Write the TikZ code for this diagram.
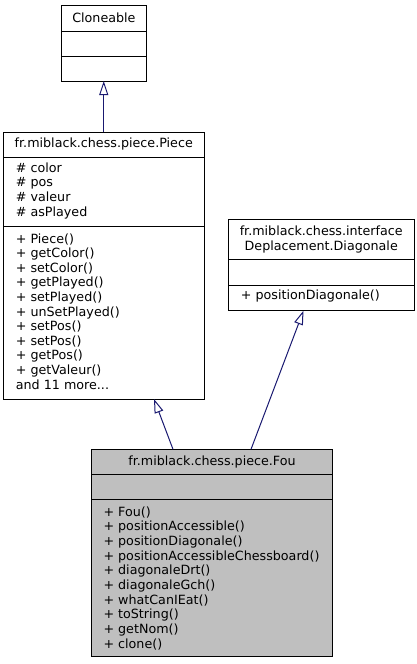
\documentclass[tikz,border=0pt]{standalone}
\usepackage{fontspec}
\setmainfont{DejaVu Sans}
\usetikzlibrary{arrows.meta}
\definecolor{navy}{HTML}{191970}
\definecolor{hilite}{HTML}{BFBFBF}
\newcommand{\umlfont}{\fontsize{12.7}{14.6}\selectfont}
\tikzset{
  box/.style={draw=black, line width=0.9pt, anchor=north west, inner sep=0pt, outer sep=0pt},
  divider/.style={draw=black, line width=0.9pt},
  lbl/.style={anchor=base west, inner sep=0pt, font=\umlfont},
  ttl/.style={anchor=base, inner sep=0pt, font=\umlfont},
  edge/.style={draw=navy, line width=1pt, -{Triangle[open,length=14pt,width=9pt]}},
}
\begin{document}
\begin{tikzpicture}[x=1pt,y=-1pt]
\useasboundingbox (0,0) rectangle (417,664);
% Cloneable
\node[box, minimum width=85.2pt, minimum height=75.3pt] (cloneable) at (61.3,5.7) {};
\draw[divider] (61.3,31.7) -- (146.5,31.7);
\draw[divider] (61.3,56.7) -- (146.5,56.7);
\node[ttl] (cloneabletitle) at (103.9,22) {Cloneable};
% Piece
\node[box, minimum width=200.5pt, minimum height=266.7pt] (piece) at (3.5,132.3) {};
\draw[divider] (3.5,157.3) -- (204,157.3);
\draw[divider] (3.5,226.7) -- (204,226.7);
\node[ttl] (piecetitle) at (103.75,147.7) {fr.miblack.chess.piece.Piece};
\foreach \t [count=\i from 0] in {\# color,\# pos,\# valeur,\# asPlayed}
  \node[lbl] (pa\i) at (15.7,172+14.7*\i) {\t};
\foreach \t [count=\i from 0] in {+ Piece(),+ getColor(),+ setColor(),+ getPlayed(),+ setPlayed(),+ unSetPlayed(),+ setPos(),+ setPos(),+ getPos(),+ getValeur()}
  \node[lbl] (pm\i) at (15.7,243+14.6*\i) {\t};
\node[lbl] (pmore) at (15.7,389) {and 11 more...};
% Diagonale
\node[box, minimum width=185.5pt, minimum height=91.2pt] (diag) at (228.5,219.5) {};
\draw[divider] (228.5,259.3) -- (414,259.3);
\draw[divider] (228.5,285.3) -- (414,285.3);
\node[ttl] (diagtitleA) at (321.25,235.7) {fr.miblack.chess.interface};
\node[ttl] (diagtitleB) at (321.25,250.5) {Deplacement.Diagonale};
\node[lbl] (dm0) at (240.7,299.3) {+ positionDiagonale()};
% Fou
\node[box, fill=hilite, minimum width=240.6pt, minimum height=207.4pt] (fou) at (91.7,449.3) {};
\draw[divider] (91.7,474.3) -- (332.3,474.3);
\draw[divider] (91.7,499.3) -- (332.3,499.3);
\node[ttl] (foutitle) at (212,465) {fr.miblack.chess.piece.Fou};
\foreach \t [count=\i from 0] in {+ Fou(),+ positionAccessible(),+ positionDiagonale(),+ positionAccessibleChessboard(),+ diagonaleDrt(),+ diagonaleGch(),+ whatCanIEat(),+ toString(),+ getNom(),+ clone()}
  \node[lbl] (fm\i) at (103.3,516+14.7*\i) {\t};
% connectors
\draw[edge] (piece.north) -- (piece.north |- cloneable.south);
\draw[edge] ([xshift=81.3pt]fou.north west) -- ([xshift=150.5pt]piece.south west);
\draw[edge] ([xshift=159.3pt]fou.north west) -- ([xshift=75pt]diag.south west);
\end{tikzpicture}
\end{document}
